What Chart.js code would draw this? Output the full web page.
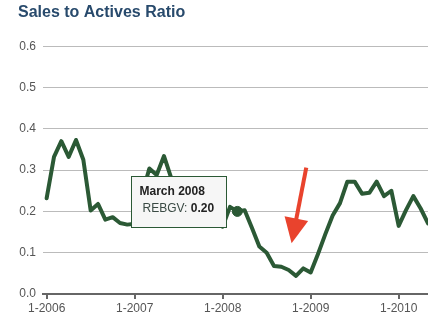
<!DOCTYPE html>
<html>
<head>
<meta charset="utf-8">
<script src="https://cdn.jsdelivr.net/npm/chart.js@4.4.1/dist/chart.umd.min.js"></script>
<style>
  html, body { margin: 0; padding: 0; background: #fff; }
  canvas { display: block; }
</style>
</head>
<body>
<canvas id="ratio-chart" width="428" height="330"></canvas>
<script>
const FONT = "'Liberation Sans', Arial, sans-serif";
const LINE_GREEN = '#2b5935';

// monthly sales-to-actives ratio, Jan 2006 .. May 2010
const startYear = 2006;
const ratio = [
  0.232, 0.332, 0.370, 0.332, 0.373, 0.325, 0.202, 0.218, 0.180, 0.186, 0.172, 0.168,
  0.170, 0.240, 0.304, 0.288, 0.334, 0.280, 0.250, 0.230, 0.225, 0.210, 0.200, 0.205,
  0.163, 0.211, 0.200, 0.203, 0.160, 0.115, 0.100, 0.068, 0.066, 0.058, 0.044, 0.062,
  0.052, 0.097, 0.145, 0.190, 0.220, 0.272, 0.272, 0.243, 0.245, 0.272, 0.237, 0.250,
  0.165, 0.203, 0.237, 0.207, 0.171
];
const monthNames = ['January', 'February', 'March', 'April', 'May', 'June',
  'July', 'August', 'September', 'October', 'November', 'December'];
const yearTickMonths = [0, 12, 24, 36, 48];
const yearTickLabels = ['1-2006', '1-2007', '1-2008', '1-2009', '1-2010'];
const seriesName = 'REBGV';
const highlightIndex = 26; // March 2008
// arrow annotation, in data units (month index, ratio)
const arrowTail = [35.4, 0.306];
const arrowTip = [33.4, 0.123];

const points = ratio.map((v, i) => ({ x: i, y: v }));
const pointRadii = ratio.map((v, i) => i === highlightIndex ? 5 : 0);

// --- arrow + tooltip overlay ---
const overlay = {
  id: 'overlay',
  afterDatasetsDraw(chart) {
    const ctx = chart.ctx;
    const xs = chart.scales.x, ys = chart.scales.y;

    // red arrow
    const tx = xs.getPixelForValue(arrowTail[0]), ty = ys.getPixelForValue(arrowTail[1]);
    const hx = xs.getPixelForValue(arrowTip[0]), hy = ys.getPixelForValue(arrowTip[1]);
    const ang = Math.atan2(hy - ty, hx - tx);
    const headLen = 25, headHalf = 12;
    const bx = hx - headLen * Math.cos(ang), by = hy - headLen * Math.sin(ang);
    ctx.save();
    ctx.strokeStyle = '#e9432d';
    ctx.fillStyle = '#e9432d';
    ctx.lineWidth = 4;
    ctx.beginPath();
    ctx.moveTo(tx, ty);
    ctx.lineTo(bx + 2 * Math.cos(ang), by + 2 * Math.sin(ang));
    ctx.stroke();
    ctx.beginPath();
    ctx.moveTo(hx, hy);
    ctx.lineTo(bx - headHalf * Math.sin(ang), by + headHalf * Math.cos(ang));
    ctx.lineTo(bx + headHalf * Math.sin(ang), by - headHalf * Math.cos(ang));
    ctx.closePath();
    ctx.fill();
    ctx.restore();

    // tooltip box for highlighted month
    const pt = chart.getDatasetMeta(0).data[highlightIndex];
    const left = Math.round(pt.x - 106) + 0.5, top = Math.round(pt.y - 35) + 0.5;
    const w = 95, h = 51;
    ctx.save();
    ctx.fillStyle = '#f6f6f6';
    ctx.strokeStyle = LINE_GREEN;
    ctx.lineWidth = 1;
    ctx.fillRect(left, top, w, h);
    ctx.strokeRect(left, top, w, h);
    const year = startYear + Math.floor(highlightIndex / 12);
    ctx.textBaseline = 'alphabetic';
    ctx.fillStyle = '#222';
    ctx.font = 'bold 12px ' + FONT;
    ctx.fillText(monthNames[highlightIndex % 12] + ' ' + year, left + 8, top + 18);
    ctx.fillStyle = '#3a4a44';
    ctx.font = '12px ' + FONT;
    const lbl = seriesName + ': ';
    ctx.fillText(lbl, left + 11, top + 35);
    const lw = ctx.measureText(lbl).width;
    ctx.fillStyle = '#222';
    ctx.font = 'bold 12px ' + FONT;
    ctx.fillText(ratio[highlightIndex].toFixed(2), left + 11 + lw, top + 35);
    ctx.restore();
  }
};

new Chart(document.getElementById('ratio-chart'), {
  type: 'line',
  data: {
    datasets: [{
      label: seriesName,
      data: points,
      borderColor: LINE_GREEN,
      backgroundColor: LINE_GREEN,
      borderWidth: 4,
      pointRadius: pointRadii,
      pointBackgroundColor: LINE_GREEN,
      pointBorderColor: LINE_GREEN,
      pointBorderWidth: 1,
      tension: 0,
      borderJoinStyle: 'round',
      borderCapStyle: 'round'
    }]
  },
  options: {
    responsive: false,
    animation: false,
    devicePixelRatio: 1,
    layout: { padding: { left: 18, right: 0, top: 0, bottom: 0 } },
    plugins: {
      legend: { display: false },
      tooltip: { enabled: false },
      title: {
        display: true,
        text: 'Sales to Actives Ratio',
        align: 'start',
        color: '#284a6c',
        font: { family: FONT, size: 16, weight: 'bold' },
        padding: { top: 3, bottom: 24 }
      }
    },
    scales: {
      x: {
        type: 'linear',
        min: -0.5,
        max: 52,
        afterBuildTicks: scale => { scale.ticks = yearTickMonths.map(v => ({ value: v })); },
        afterFit: scale => { scale.height = 36; },
        ticks: {
          autoSkip: false,
          maxRotation: 0,
          color: '#555',
          padding: 2,
          font: { family: FONT, size: 12 },
          callback: (v) => yearTickLabels[yearTickMonths.indexOf(v)]
        },
        grid: { drawOnChartArea: false, tickLength: 5, color: '#666', lineWidth: 2 },
        border: { color: '#666', width: 2 }
      },
      y: {
        min: 0,
        max: 0.6,
        afterFit: scale => { scale.width = 25; },
        ticks: {
          stepSize: 0.1,
          color: '#555',
          padding: 7,
          font: { family: FONT, size: 12 },
          callback: v => v.toFixed(1)
        },
        grid: { color: '#bbb', lineWidth: 1, drawTicks: false },
        border: { display: false }
      }
    }
  },
  plugins: [overlay]
});
</script>
</body>
</html>
